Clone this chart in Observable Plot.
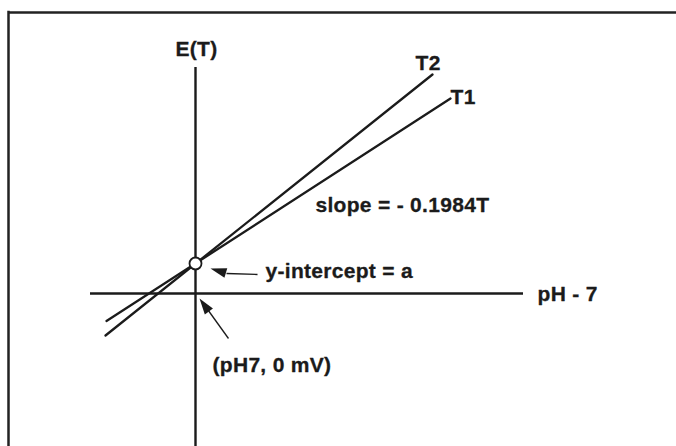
<!DOCTYPE html>
<html>
<head>
<meta charset="utf-8">
<script src="https://cdn.jsdelivr.net/npm/d3@7"></script>
<script src="https://cdn.jsdelivr.net/npm/@observablehq/plot@0.6"></script>
<style>
  html, body { margin: 0; padding: 0; background: #fff; }
  #chart svg { display: block; }
</style>
</head>
<body>
<div id="chart"></div>
<script>
// Data coordinates: x = pH - 7, y = E(T); origin at (pH7, 0 mV)
const interceptA = 0.6;
const lineT1 = [{x: -1.78, y: -0.55}, {x: 5.1, y: 3.9}];
const lineT2 = [{x: -1.8, y: -0.84}, {x: 4.74, y: 4.38}];
const xAxisExtent = [-2.1, 6.56];
const yAxisExtent = [-3.1, 4.52];
const frameTop = 5.62;
const frameLeft = -3.74;

const axisLabels = ["E(T)", "pH - 7"];
const seriesLabels = ["T1", "T2"];
const noteTexts = ["slope = - 0.1984T", "y-intercept = a", "(pH7, 0 mV)"];

// annotation arrows: tail -> head base, tip
const interceptArrow = {x1: 1.24, y1: 0.38, x2: 0.62, y2: 0.40, tipX: 0.3, tipY: 0.5, angle: -73.6};
const originArrow = {x1: 0.66, y1: -0.9, x2: 0.25, y2: -0.33, tipX: 0.08, tipY: -0.1, angle: -35.9};

const ink = "#1b1b1b";
const font = "'Liberation Sans', Arial, Helvetica, sans-serif";
const arrowHead = {
  draw(context) {
    context.moveTo(0, 0);
    context.lineTo(-5, 16);
    context.lineTo(5, 16);
    context.closePath();
  }
};

const textOpts = {fontSize: 21, fontWeight: "bold", fontFamily: font, fill: ink, stroke: ink, strokeWidth: 0.3, lineAnchor: "bottom"};

const chart = Plot.plot({
  width: 676,
  height: 446,
  margin: 0,
  style: {background: "#fff", letterSpacing: "0.3px"},
  x: {domain: [-3.9, 9.62], axis: null},
  y: {domain: [-3.06, 5.86], axis: null},
  marks: [
    // frame
    Plot.ruleY([frameTop], {x1: frameLeft, x2: 9.7, stroke: "#222", strokeWidth: 2.5}),
    Plot.ruleX([frameLeft], {y1: -3.2, y2: frameTop + 0.025, stroke: "#222", strokeWidth: 2.5}),
    // axes
    Plot.ruleY([0], {x1: xAxisExtent[0], x2: xAxisExtent[1], stroke: ink, strokeWidth: 2.4}),
    Plot.ruleX([0], {y1: yAxisExtent[0], y2: yAxisExtent[1], stroke: ink, strokeWidth: 2.4}),
    // lines
    Plot.line(lineT1, {x: "x", y: "y", stroke: ink, strokeWidth: 2.3}),
    Plot.line(lineT2, {x: "x", y: "y", stroke: ink, strokeWidth: 2.3}),
    // intercept point
    Plot.dot([{x: 0, y: interceptA}], {x: "x", y: "y", r: 6, fill: "#fff", stroke: ink, strokeWidth: 1.8}),
    // arrows
    Plot.link([interceptArrow, originArrow], {x1: "x1", y1: "y1", x2: "x2", y2: "y2", stroke: ink, strokeWidth: 1.3}),
    Plot.dot([interceptArrow, originArrow], {x: "tipX", y: "tipY", rotate: "angle", symbol: arrowHead, fill: ink, stroke: "none"}),
    // labels
    Plot.text([axisLabels[0]], {x: 0.02, y: 4.76, text: d => d, textAnchor: "middle", ...textOpts}),
    Plot.text([axisLabels[1]], {x: 6.84, y: -0.14, text: d => d, textAnchor: "start", ...textOpts}),
    Plot.text([seriesLabels[1]], {x: 4.4, y: 4.48, text: d => d, textAnchor: "start", ...textOpts}),
    Plot.text([seriesLabels[0]], {x: 5.1, y: 3.8, text: d => d, textAnchor: "start", ...textOpts}),
    Plot.text([noteTexts[0]], {x: 2.4, y: 1.64, text: d => d, textAnchor: "start", ...textOpts}),
    Plot.text([noteTexts[1]], {x: 1.4, y: 0.32, text: d => d, textAnchor: "start", ...textOpts}),
    Plot.text([noteTexts[2]], {x: 0.34, y: -1.56, text: d => d, textAnchor: "start", ...textOpts})
  ]
});
document.getElementById("chart").appendChild(chart);
</script>
</body>
</html>
